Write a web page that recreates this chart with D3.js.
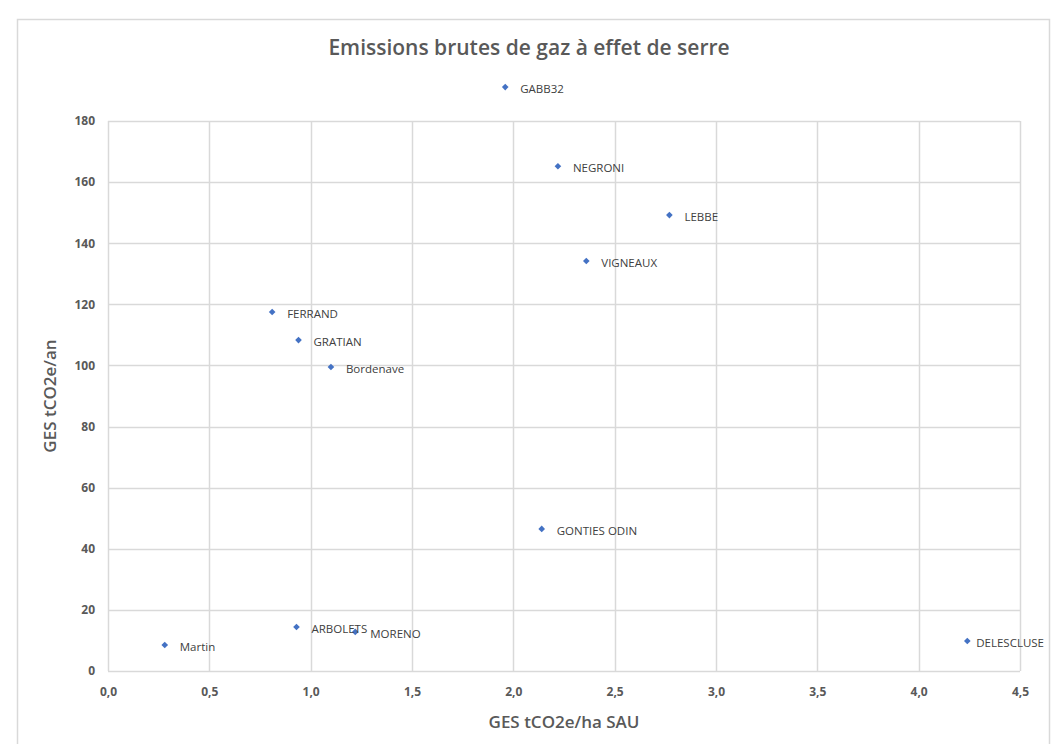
<!DOCTYPE html>
<html>
<head>
<meta charset="utf-8">
<script src="https://cdn.jsdelivr.net/npm/d3@7"></script>
<style>
  html, body { margin: 0; padding: 0; background: #fff; }
  svg { display: block; }
  text { font-family: "Open Sans", "DejaVu Sans", sans-serif; }
</style>
</head>
<body>
<svg id="chart" width="1060" height="744"></svg>
<script>
// ---- data ----
const names = ["GABB32", "NEGRONI", "LEBBE", "VIGNEAUX", "FERRAND", "GRATIAN", "Bordenave",
               "GONTIES ODIN", "Martin", "ARBOLETS", "MORENO", "DELESCLUSE"];
const gesHa = [1.96, 2.22, 2.77, 2.36, 0.81, 0.94, 1.10, 2.14, 0.28, 0.93, 1.22, 4.24];
const gesAn = [191.1, 165.2, 149.2, 134.2, 117.5, 108.3, 99.5, 46.5, 8.5, 14.4, 12.8, 9.8];
const xTicks = [0, 0.5, 1, 1.5, 2, 2.5, 3, 3.5, 4, 4.5];
const yTicks = [0, 20, 40, 60, 80, 100, 120, 140, 160, 180];
const title = "Emissions brutes de gaz à effet de serre";
const xTitle = "GES tCO2e/ha SAU";
const yTitle = "GES tCO2e/an";

// ---- layout ----
const svg = d3.select("#chart");
const frame = { left: 17, top: 19, right: 1049, bottom: 770 };
const plot = { left: 108, top: 121, right: 1020, bottom: 671 };
const textColor = "#595959";
const gridColor = "#d9d9d9";
const markColor = "#4472C4";

svg.append("rect")
  .attr("x", frame.left + 0.5).attr("y", frame.top + 0.5)
  .attr("width", frame.right - frame.left).attr("height", frame.bottom - frame.top)
  .attr("fill", "#fff").attr("stroke", gridColor).attr("stroke-width", 1.5);

const x = d3.scaleLinear().domain([0, 4.5]).range([plot.left, plot.right]);
const y = d3.scaleLinear().domain([0, 180]).range([plot.bottom, plot.top]);
const fmt = d => d3.format(".1f")(d).replace(".", ",");

// grid lines
const g = svg.append("g");
g.selectAll("line.v").data(xTicks).join("line")
  .attr("x1", d => Math.round(x(d)) + 0.5).attr("x2", d => Math.round(x(d)) + 0.5)
  .attr("y1", plot.top).attr("y2", plot.bottom)
  .attr("stroke", gridColor).attr("stroke-width", 1.5);
g.selectAll("line.h").data(yTicks).join("line")
  .attr("y1", d => Math.round(y(d)) + 0.5).attr("y2", d => Math.round(y(d)) + 0.5)
  .attr("x1", plot.left).attr("x2", plot.right)
  .attr("stroke", gridColor).attr("stroke-width", 1.5);

// axes (labels only, via d3 axes)
const xAxis = svg.append("g")
  .attr("transform", `translate(0,${plot.bottom})`)
  .call(d3.axisBottom(x).tickValues(xTicks).tickFormat(fmt).tickSize(0).tickPadding(16));
const yAxis = svg.append("g")
  .attr("transform", `translate(${plot.left},0)`)
  .call(d3.axisLeft(y).tickValues(yTicks).tickFormat(d3.format("d")).tickSize(0).tickPadding(13));
[xAxis, yAxis].forEach(a => {
  a.select(".domain").remove();
  a.selectAll("text").attr("fill", textColor).attr("font-size", 12).attr("font-weight", 700)
    .style("font-family", '"Open Sans", sans-serif');
});

// titles
svg.append("text").attr("x", 529).attr("y", 55).attr("text-anchor", "middle")
  .attr("fill", textColor).attr("font-size", 21).attr("font-weight", 600).text(title);
svg.append("text").attr("x", (plot.left + plot.right) / 2).attr("y", 728).attr("text-anchor", "middle")
  .attr("fill", textColor).attr("font-size", 17).attr("font-weight", 600).text(xTitle);
svg.append("text").attr("transform", `translate(56,${(plot.top + plot.bottom) / 2}) rotate(-90)`)
  .attr("text-anchor", "middle")
  .attr("fill", textColor).attr("font-size", 17).attr("font-weight", 600).text(yTitle);

// points
const data = names.map((n, i) => ({ name: n, xv: gesHa[i], yv: gesAn[i] }));
const sym = d3.symbol().type(d3.symbolSquare).size(22);
svg.append("g").selectAll("path").data(data).join("path")
  .attr("d", sym)
  .attr("transform", d => `translate(${x(d.xv)},${y(d.yv)}) rotate(45)`)
  .attr("fill", markColor);

// labels (right of point; pulled back inside the chart frame if needed)
const labels = svg.append("g").selectAll("text").data(data).join("text")
  .attr("x", d => x(d.xv) + 15)
  .attr("y", d => y(d.yv) + 3)
  .attr("dominant-baseline", "middle")
  .attr("fill", "#404040").attr("font-size", 11.5)
  .text(d => d.name);
labels.each(function (d) {
  const w = this.getComputedTextLength();
  const sx = x(d.xv) + 15;
  if (sx + w > frame.right - 5) {
    d3.select(this).attr("x", Math.max(x(d.xv) + 3, frame.right - 5 - w));
  }
});
</script>
</body>
</html>
